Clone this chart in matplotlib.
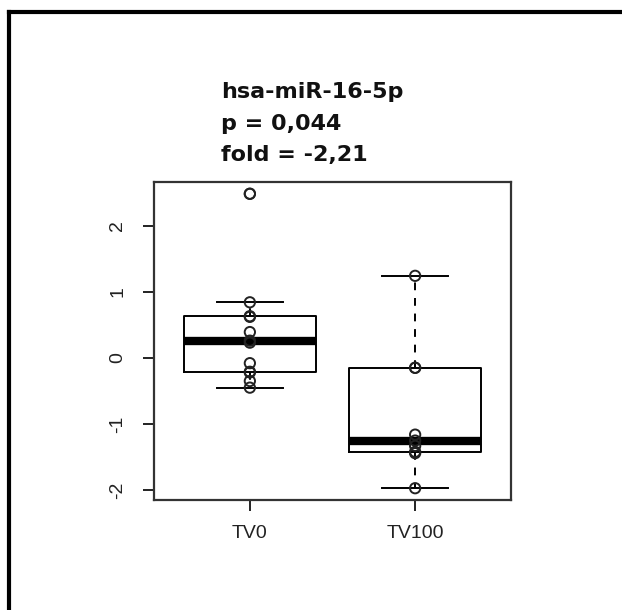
import numpy as np
import matplotlib.pyplot as plt
from matplotlib.lines import Line2D

groups = ["TV0", "TV100"]
tv0 = [2.48, 2.48, 0.84, 0.63, 0.62, 0.39, 0.26, 0.23, -0.08, -0.21, -0.22, -0.35, -0.45]
tv100 = [1.24, -0.15, -0.15, -1.16, -1.25, -1.33, -1.42, -1.44, -1.97]
title_lines = ["hsa-miR-16-5p", "p = 0,044", "fold = -2,21"]
yticks = [-2, -1, 0, 1, 2]


def fivenum_stats(x):
    # R style boxplot stats (Tukey hinges, 1.5 IQR whiskers)
    x = np.sort(np.asarray(x, dtype=float))
    n = len(x)
    n4 = np.floor((n + 3) / 2) / 2
    d = np.array([1, n4, (n + 1) / 2, n + 1 - n4, n]) - 1
    f = 0.5 * (x[np.floor(d).astype(int)] + x[np.ceil(d).astype(int)])
    iqr = f[3] - f[1]
    inside = x[(x >= f[1] - 1.5 * iqr) & (x <= f[3] + 1.5 * iqr)]
    return dict(med=f[2], q1=f[1], q3=f[3], whislo=inside.min(), whishi=inside.max(), fliers=[])


plt.rcParams['font.family'] = ['Liberation Sans', 'DejaVu Sans']
fig = plt.figure(figsize=(6.22, 6.10), dpi=100)
ax = fig.add_axes([154 / 622, 1 - 500 / 610, 357 / 622, 318 / 610])

data = [tv0, tv100]
stats = [fivenum_stats(d) for d in data]
ax.bxp(stats, positions=[1, 2], widths=0.8, showfliers=False,
       boxprops=dict(color='black', linewidth=1.4),
       medianprops=dict(color='black', linewidth=6, solid_capstyle='butt'),
       whiskerprops=dict(color='black', linewidth=1.4, linestyle=(0, (4, 4))),
       capprops=dict(color='black', linewidth=1.4), capwidths=0.4)

for i, d in enumerate(data):
    ax.scatter(np.full(len(d), i + 1), d, s=55, facecolors='none',
               edgecolors='#222222', linewidths=1.4, zorder=5)

allv = np.concatenate([tv0, tv100])
rng = allv.max() - allv.min()
ax.set_ylim(allv.min() - 0.04 * rng, allv.max() + 0.04 * rng)
ax.set_xlim(0.42, 2.58)
ax.set_yticks(yticks)
ax.set_yticklabels([str(v) for v in yticks], rotation=90, va='center')
ax.set_xticks([1, 2])
ax.set_xticklabels(groups)
ax.tick_params(axis='both', length=8, width=1.4, labelsize=14, colors='#222222')
ax.tick_params(axis='y', pad=12)
ax.tick_params(axis='x', pad=10)
for s in ax.spines.values():
    s.set_linewidth(1.6)
    s.set_color('#333333')

title_base = [98, 129.5, 161]
for line, yb in zip(title_lines, title_base):
    fig.text(221 / 622, 1 - yb / 610, line, fontsize=16, fontweight='bold',
             family=['DejaVu Sans'], ha='left', va='baseline', color='#111111')

# outer frame (top and left edges only)
fig.add_artist(Line2D([9 / 622, 1], [1 - 12 / 610, 1 - 12 / 610], color='black', linewidth=3,
                      transform=fig.transFigure))
fig.add_artist(Line2D([9 / 622, 9 / 622], [0, 1 - 12 / 610], color='black', linewidth=3,
                      transform=fig.transFigure))

fig.savefig('out.png', dpi=100)
